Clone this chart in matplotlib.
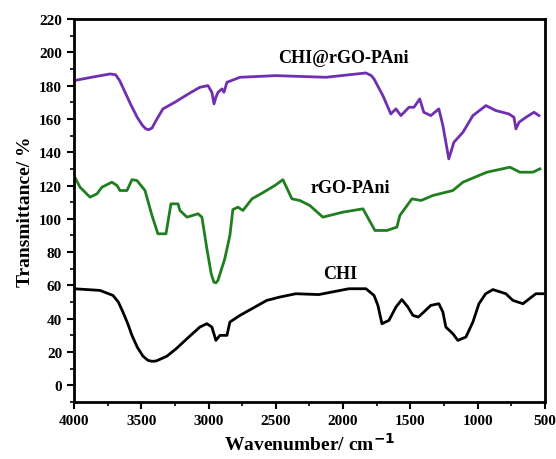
import matplotlib.pyplot as plt
from matplotlib.ticker import MultipleLocator

plt.rcParams['font.family'] = ['Liberation Serif', 'DejaVu Serif']
plt.rcParams['font.weight'] = 'bold'

# CHI@rGO-PAni (purple)
wn_comp = [4000, 3870, 3732, 3690, 3660, 3620, 3580, 3530, 3490, 3465, 3445, 3420,
           3390, 3339, 3250, 3150, 3064, 3004, 2975, 2959, 2945, 2929, 2900, 2885,
           2863, 2766, 2500, 2127, 1830, 1790, 1770, 1704, 1645, 1607, 1570, 1510,
           1473, 1430, 1400, 1348, 1288, 1258, 1214, 1176, 1109, 1035, 938, 864,
           768, 730, 715, 692, 640, 581, 544]
tr_comp = [183, 185, 187, 186.5, 183, 176, 169, 161, 156, 154, 153.5, 154.5,
           159, 166, 170, 175, 179, 180, 176, 169, 173, 176, 178, 176,
           182, 185, 186, 185, 187.6, 186, 184, 174, 163, 166, 162, 167,
           167, 172, 164, 162, 166, 156, 136, 146, 152, 162, 168, 165,
           163, 161, 154, 158, 161, 164, 162]

# rGO-PAni (green)
wn_rgo = [4000, 3955, 3881, 3829, 3792, 3718, 3680, 3658, 3606, 3569, 3532, 3472,
          3420, 3376, 3316, 3279, 3227, 3212, 3160, 3078, 3049, 3012, 2980, 2960,
          2945, 2930, 2879, 2841, 2819, 2781, 2744, 2677, 2596, 2507, 2447, 2380,
          2321, 2247, 2150, 2001, 1852, 1763, 1674, 1600, 1578, 1488, 1420, 1333,
          1184, 1109, 931, 760, 686, 589, 537]
tr_rgo = [126, 119, 113, 115, 119, 122, 120, 117, 117, 123.5, 123, 117,
          102, 91, 91, 109, 109, 105, 101, 103, 101, 82, 67, 62,
          61.5, 63, 76, 90, 105.5, 107, 105, 112, 115.7, 120, 123.5, 112,
          111, 108, 101, 104, 106, 93, 93, 95, 102, 112, 111, 114,
          117, 122, 128, 131, 128, 128, 130]

# CHI (black)
wn_chi = [4000, 3807, 3710, 3670, 3636, 3600, 3569, 3530, 3487, 3450, 3420, 3390,
          3350, 3309, 3240, 3160, 3064, 3012, 2975, 2945, 2915, 2863, 2841, 2766,
          2567, 2470, 2351, 2180, 1957, 1830, 1770, 1741, 1711, 1659, 1607, 1563,
          1518, 1481, 1440, 1400, 1348, 1288, 1258, 1236, 1184, 1147, 1087, 1035,
          990, 940, 886, 790, 738, 663, 567, 515]
tr_chi = [58, 57, 54, 50, 44, 37, 30, 23, 17.5, 15, 14.4, 14.6,
          16, 17.5, 22, 28, 35, 37, 35, 27, 30, 30, 38, 42,
          51, 53, 55, 54.5, 58, 58, 54, 48, 37, 39, 47, 51.5,
          47, 42, 41, 44, 48, 49, 44, 35, 31, 27, 29, 38,
          49, 55, 57.5, 55, 51, 49, 55, 55]

fig = plt.figure(figsize=(5.56, 4.6), dpi=100)
ax = fig.add_axes([0.133, 0.124, 0.847, 0.8325])

ax.plot(wn_comp, tr_comp, color='#6f2fb0', lw=2)
ax.plot(wn_rgo, tr_rgo, color='#1f7f1f', lw=2)
ax.plot(wn_chi, tr_chi, color='black', lw=2)

ax.text(1994, 197, 'CHI@rGO-PAni', fontsize=13, fontweight='bold', ha='center', va='center')
ax.text(1949, 119, 'rGO-PAni', fontsize=13, fontweight='bold', ha='center', va='center')
ax.text(2023, 67, 'CHI', fontsize=13, fontweight='bold', ha='center', va='center')

ax.set_xlim(4000, 500)
ax.set_ylim(-10, 220)
ax.xaxis.set_major_locator(MultipleLocator(500))
ax.xaxis.set_minor_locator(MultipleLocator(250))
ax.yaxis.set_major_locator(MultipleLocator(20))
ax.yaxis.set_minor_locator(MultipleLocator(10))
ax.tick_params(which='major', direction='out', length=5, width=1.5, labelsize=11)
ax.tick_params(which='minor', direction='out', length=3, width=1.2)
for lab in ax.get_xticklabels() + ax.get_yticklabels():
    lab.set_fontweight('bold')
for sp in ax.spines.values():
    sp.set_linewidth(2)

ax.set_xlabel('Wavenumber/ cm$^{\\mathbf{-1}}$', fontsize=14, fontweight='bold')
ax.set_ylabel('Transmittance/ %', fontsize=14, fontweight='bold')

fig.savefig('out.png', dpi=100)
